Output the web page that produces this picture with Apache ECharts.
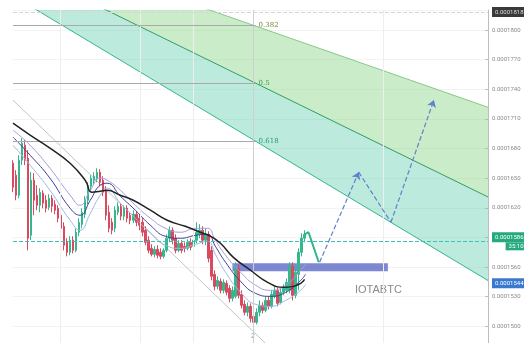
<!DOCTYPE html>
<html>
<head>
<meta charset="utf-8">
<script src="https://cdn.jsdelivr.net/npm/echarts@6/dist/echarts.min.js"></script>
<style>
	html, body { margin: 0; padding: 0; background: #fff; }
	#main { width: 524px; height: 343px; }
</style>
</head>
<body>
<div id="main"></div>
<script>
// prices are in 1e-8 BTC, x is the bar index
var opens = [
	16652, 16530, 16328, 16682, 16834, 16703, 15922, 16480, 16328, 16226,
	16348, 16277, 16206, 16297, 16236, 16196, 16125, 16013, 15851, 15750,
	15872, 15770, 15953, 16034, 16135, 16277, 16419, 16480, 16500, 16561,
	16480, 16378, 16155, 16054, 15993, 16155, 16216, 16115, 16196, 16125,
	16074, 16135, 16095, 16054, 15973, 15872, 15790, 15730, 15780, 15750,
	15709, 15770, 15892, 15973, 15892, 15770, 15841, 15811, 15790, 15851,
	15811, 15872, 15932, 15973, 15872, 15932, 15770, 15527, 15405, 15456,
	15365, 15436, 15385, 15284, 15304, 15588, 15324, 15223, 15142, 15203,
	15101, 15041, 15142, 15213, 15162, 15263, 15203, 15304, 15365, 15243,
	15345, 15365, 15365, 15608, 15314, 15527, 15750, 15892
];
var closes = [
	16409, 16328, 16682, 16855, 16682, 15892, 16480, 16277, 16226, 16358,
	16247, 16196, 16297, 16216, 16176, 16095, 15993, 15821, 15750, 15872,
	15770, 15953, 16054, 16155, 16277, 16429, 16500, 16520, 16561, 16459,
	16358, 16125, 15993, 15973, 16176, 16216, 16115, 16196, 16095, 16074,
	16135, 16054, 16024, 15953, 15851, 15770, 15730, 15780, 15720, 15709,
	15770, 15892, 15973, 15872, 15770, 15841, 15770, 15790, 15851, 15801,
	15872, 15953, 15973, 15872, 15932, 15689, 15507, 15405, 15466, 15365,
	15446, 15345, 15284, 15365, 15588, 15314, 15213, 15142, 15203, 15081,
	15041, 15142, 15213, 15162, 15263, 15203, 15324, 15365, 15233, 15345,
	15385, 15446, 15608, 15314, 15547, 15750, 15892, 15932
];
var lows = [
	16358, 16277, 16297, 16632, 16632, 15770, 15872, 16125, 16176, 16155,
	16196, 16155, 16176, 16155, 16135, 16054, 15953, 15770, 15709, 15720,
	15740, 15750, 15912, 15993, 16095, 16236, 16378, 16439, 16459, 16419,
	16318, 16074, 15953, 15932, 15953, 16125, 16074, 16074, 16054, 16034,
	16044, 16013, 15973, 15912, 15821, 15740, 15709, 15699, 15689, 15679,
	15689, 15750, 15851, 15831, 15740, 15750, 15740, 15750, 15770, 15770,
	15780, 15841, 15892, 15831, 15821, 15649, 15466, 15365, 15375, 15334,
	15334, 15314, 15243, 15253, 15284, 15284, 15182, 15111, 15101, 15041,
	15000, 15020, 15101, 15132, 15142, 15172, 15182, 15284, 15203, 15223,
	15314, 15334, 15334, 15263, 15284, 15365, 15709, 15851
];
var highs = [
	16682, 16581, 16733, 16905, 16885, 16784, 16561, 16551, 16429, 16399,
	16378, 16328, 16338, 16328, 16277, 16226, 16155, 16054, 15892, 15912,
	15912, 15993, 16095, 16196, 16318, 16459, 16530, 16561, 16601, 16591,
	16520, 16419, 16226, 16095, 16216, 16257, 16247, 16226, 16226, 16155,
	16176, 16165, 16135, 16095, 16013, 15912, 15831, 15811, 15821, 15790,
	15790, 15932, 16013, 16003, 15932, 15872, 15872, 15851, 15882, 15892,
	15912, 16054, 16034, 16013, 15993, 15963, 15811, 15568, 15507, 15486,
	15476, 15466, 15416, 15405, 15649, 15628, 15365, 15263, 15243, 15233,
	15142, 15182, 15263, 15243, 15304, 15304, 15365, 15405, 15395, 15385,
	15426, 15486, 15649, 15649, 15588, 15790, 15943, 15973
];

// moving averages, [bar, price]
var maSlow = [[0,17057],[5.7,16936],[12.3,16804],[19,16652],[24,16480],[26.3,16358],[29,16368],[31.3,16378],[35.7,16328],[40,16277],[45.7,16176],[51.3,16074],[57.3,16013],[62.3,15953],[65.7,15912],[69,15841],[73.3,15699],[79,15568],[84.7,15446],[90,15395],[93.3,15405],[95.7,15436],[97,15476]];
var maUpper = [[0,16986],[5.7,16834],[12.3,16601],[19,16328],[22.3,16226],[25.7,16378],[29,16500],[31.3,16480],[35.7,16378],[40.7,16226],[45.7,16095],[50.7,15993],[55.7,15953],[60.7,15993],[64.7,15993],[67.3,15872],[70.7,15720],[75.7,15547],[80.7,15416],[85.7,15365],[90.7,15416],[95.7,15568],[97.3,15628]];
var maMid = [[0,16916],[5.7,16733],[12.3,16500],[19,16196],[22.3,16125],[25.7,16277],[29,16429],[31.3,16449],[35.7,16318],[40.7,16176],[45.7,16024],[50.7,15912],[55.7,15892],[60.7,15922],[64.7,15932],[67.3,15811],[70.7,15649],[75.7,15456],[80.7,15334],[85.7,15304],[90.7,15345],[95.7,15466],[97.3,15527]];
var maLower = [[0,16834],[5.7,16632],[12.3,16378],[19,16074],[22.3,15973],[25.7,16145],[29,16328],[31.3,16399],[35.7,16247],[40.7,16095],[45.7,15943],[50.7,15821],[55.7,15790],[60.7,15831],[64.7,15861],[67.3,15730],[70.7,15547],[75.7,15345],[80.7,15223],[85.7,15203],[90.7,15263],[95.7,15365],[97.3,15426]];

// fib fan lines, start and end of the visible range
var fanX = [0, 158];
var fan382 = [18899, 17218];
var fan500 = [18665, 16310];
var fan618 = [18347, 15464];
var fibLevels = ['0.382', '0.5', '0.618'];
var fibPrices = [18051, 17463, 16875];
var fibEnd = 80.7;

var channelLine = [[0, 17290], [158, 12659]];
var lastMove = [[97, 15932], [98.3, 15953], [101.7, 15649]];
var projection = [[102, 15649], [115, 16561], [125.7, 16054], [140, 17291]];
var zoneBox = [73, 124.7, 15639, 15557];
var vGrid = [15.7, 42.3, 60, 123.3];
var vMain = 80;
var lastPrice = 15861;
var bluePrice = 15436;
var highPrice = 18182;

var yTicks = { min: 14700, max: 18203, step: 300 };

function fmt(v) {
	return (v * 1e-8).toFixed(7);
}

var candles = opens.map(function (o, k) {
	return [k, o, closes[k], lows[k], highs[k]];
});

var myChart = echarts.init(document.getElementById('main'));

var fibLines = fibPrices.map(function (p, k) {
	return [
		{ coord: [0, p] },
		{ coord: [fibEnd, p], label: { formatter: fibLevels[k], color: ['#7d8a3c', '#3f9a4c', '#2f9a7c'][k] } }
	];
});

var vLines = vGrid.map(function (x) {
	return { xAxis: x, lineStyle: { color: '#eeeeee', type: 'solid', width: 1 } };
});
vLines.push({ xAxis: vMain, lineStyle: { color: '#cfcfcf', type: 'solid', width: 1 } });

var bands = [
	{ lo: fan618, hi: fan500, color: 'rgba(95,205,175,0.42)' },
	{ lo: fan500, hi: fan382, color: 'rgba(130,210,125,0.42)' }
];

var option = {
	animation: false,
	backgroundColor: '#fff',
	// the plot runs a little past the bottom edge, like the screenshot
	grid: { left: 13, right: 36, top: 10, height: 346, outerBoundsMode: 'none', containLabel: false },
	xAxis: {
		type: 'value', min: fanX[0], max: fanX[1], show: false,
		axisLine: { show: false }, splitLine: { show: false }, axisTick: { show: false }
	},
	yAxis: {
		type: 'value',
		position: 'right',
		min: yTicks.min,
		max: yTicks.max,
		interval: yTicks.step,
		axisLine: { show: true, onZero: false, lineStyle: { color: '#bdbdbd' } },
		axisTick: { show: true, inside: true, length: 3, lineStyle: { color: '#bdbdbd' } },
		axisLabel: { fontSize: 6, color: '#8a8a8a', margin: 4, fontFamily: 'Roboto', showMaxLabel: false, formatter: fmt },
		splitLine: { show: true, lineStyle: { color: '#f3f3f3' } }
	},
	graphic: [
		{ type: 'text', left: 355, top: 284, style: { text: 'IOTABTC', fontSize: 11, fill: '#8a8a8a', fontFamily: 'Liberation Sans' } },
		{ type: 'text', left: 251, top: 333, style: { text: '2', fontSize: 7, fill: '#999' } }
	],
	series: [
		{
			type: 'custom',
			clip: true,
			silent: true,
			z: 1,
			renderItem: function (params, api) {
				var b = bands[params.dataIndex];
				var pts = [
					api.coord([fanX[0], b.lo[0]]), api.coord([fanX[1], b.lo[1]]),
					api.coord([fanX[1], b.hi[1]]), api.coord([fanX[0], b.hi[0]])
				];
				return { type: 'polygon', shape: { points: pts }, style: { fill: b.color } };
			},
			data: [[fanX[0], fan618[0]], [fanX[0], fan500[0]]]
		},
		{ type: 'line', silent: true, symbol: 'none', z: 2, data: [[fanX[0], fan382[0]], [fanX[1], fan382[1]]], lineStyle: { color: '#86c98a', width: 1 } },
		{ type: 'line', silent: true, symbol: 'none', z: 2, data: [[fanX[0], fan500[0]], [fanX[1], fan500[1]]], lineStyle: { color: '#2f9d66', width: 1 } },
		{ type: 'line', silent: true, symbol: 'none', z: 2, data: [[fanX[0], fan618[0]], [fanX[1], fan618[1]]], lineStyle: { color: '#34b58f', width: 1 } },
		{ type: 'line', silent: true, symbol: 'none', z: 2, data: channelLine, lineStyle: { color: '#c4c4c4', width: 1 } },
		{
			type: 'candlestick',
			z: 3,
			barWidth: 2,
			encode: { x: 0, y: [1, 2, 3, 4] },
			data: candles,
			itemStyle: { color: '#33b88e', color0: '#d9495f', borderColor: '#33b88e', borderColor0: '#d9495f', borderWidth: 1 },
			markArea: {
				silent: true,
				itemStyle: { color: 'rgba(98,108,200,0.82)' },
				data: [[{ coord: [zoneBox[0], zoneBox[2]] }, { coord: [zoneBox[1], zoneBox[3]] }]]
			},
			markLine: {
				silent: true,
				symbol: 'none',
				label: { show: false },
				data: vLines
			}
		},
		{
			type: 'line', silent: true, symbol: 'none', z: 2, data: [],
			markLine: {
				silent: true,
				symbol: 'none',
				lineStyle: { color: '#a9a9a9', width: 1, type: 'solid' },
				label: { show: true, position: 'end', distance: 3, fontSize: 7, fontFamily: 'DejaVu Serif' },
				data: fibLines
			}
		},
		{
			// current price line
			type: 'line', silent: true, symbol: 'none', z: 6, data: [],
			markLine: {
				silent: true,
				symbol: 'none',
				lineStyle: { color: '#3cc2b4', type: 'dashed', width: 1 },
				label: {
					show: true, position: 'end', distance: 4,
					formatter: '{a|' + fmt(lastPrice) + '}\n{b|35:10}',
					rich: {
						a: { backgroundColor: '#25a97f', color: '#fff', fontSize: 6, padding: [2, 3], fontFamily: 'Roboto' },
						b: { backgroundColor: '#25a97f', color: '#fff', fontSize: 6, padding: [1, 3], align: 'right', fontFamily: 'Roboto' }
					}
				},
				data: [{ yAxis: lastPrice }]
			}
		},
		{
			type: 'line', silent: true, symbol: 'none', z: 6, data: [],
			markLine: {
				silent: true,
				symbol: 'none',
				data: [
					{
						yAxis: highPrice,
						lineStyle: { color: '#d6d6d6', type: 'dashed', width: 1 },
						label: { show: true, position: 'end', distance: 4, formatter: fmt(highPrice), backgroundColor: '#3a3a3a', color: '#ddd', fontSize: 6, padding: [2, 3], fontFamily: 'Roboto' }
					},
					{
						yAxis: bluePrice,
						lineStyle: { color: 'rgba(255,255,255,0)', width: 1 },
						label: { show: true, position: 'end', distance: 4, formatter: fmt(bluePrice), backgroundColor: '#3b78cf', color: '#fff', fontSize: 6, padding: [2, 3], fontFamily: 'Roboto' }
					}
				]
			}
		},
		{ type: 'line', silent: true, symbol: 'none', smooth: true, z: 4, data: maLower, lineStyle: { color: '#9fb7e6', width: 1 } },
		{ type: 'line', silent: true, symbol: 'none', smooth: true, z: 4, data: maMid, lineStyle: { color: '#3b3f98', width: 1 } },
		{ type: 'line', silent: true, symbol: 'none', smooth: true, z: 4, data: maUpper, lineStyle: { color: '#a99cdb', width: 1 } },
		{ type: 'line', silent: true, symbol: 'none', smooth: true, z: 5, data: maSlow, lineStyle: { color: '#222', width: 1.5 } },
		{ type: 'line', silent: true, symbol: 'none', z: 5, data: lastMove, lineStyle: { color: '#2fb58c', width: 2 } },
		{
			type: 'line', silent: true, symbol: 'none', z: 6, data: [],
			markLine: {
				silent: true,
				symbolSize: 7,
				lineStyle: { color: '#5f82cc', type: 'dashed', width: 1.2 },
				label: { show: false },
				data: [
					[{ coord: projection[0], symbol: 'none' }, { coord: projection[1], symbol: 'arrow' }],
					[{ coord: projection[1], symbol: 'none' }, { coord: projection[2], symbol: 'none' }],
					[{ coord: projection[2], symbol: 'none' }, { coord: projection[3], symbol: 'arrow' }]
				]
			}
		}
	]
};

myChart.setOption(option);
</script>
</body>
</html>
